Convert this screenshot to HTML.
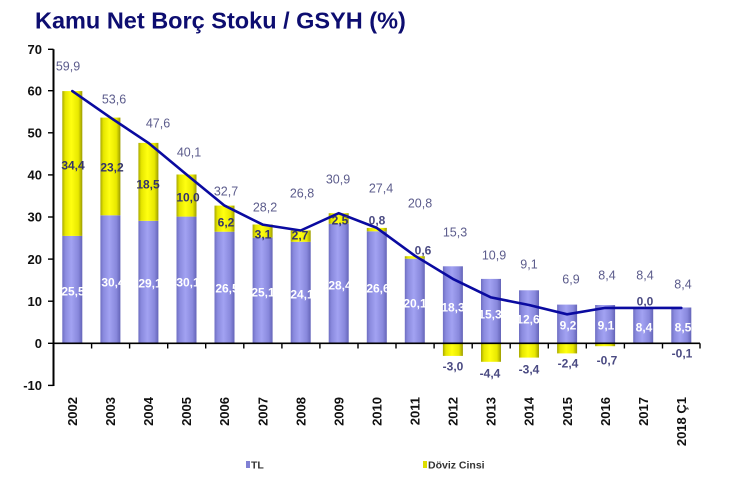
<!DOCTYPE html>
<html><head><meta charset="utf-8"><style>
html,body{margin:0;padding:0;background:#fff;}
svg{display:block;}
text{font-family:"Liberation Sans",Arial,sans-serif;}
</style></head><body>
<svg width="736" height="478" viewBox="0 0 736 478" xmlns="http://www.w3.org/2000/svg">
<defs>
<linearGradient id="gp" x1="0" x2="1" y1="0" y2="0">
<stop offset="0" stop-color="#6e6ec2"/><stop offset="0.15" stop-color="#8a8ade"/><stop offset="0.45" stop-color="#a2a2f2"/><stop offset="0.8" stop-color="#8888dc"/><stop offset="1" stop-color="#6464b8"/>
</linearGradient>
<linearGradient id="gy" x1="0" x2="1" y1="0" y2="0">
<stop offset="0" stop-color="#a8a800"/><stop offset="0.15" stop-color="#e6e600"/><stop offset="0.45" stop-color="#ffff10"/><stop offset="0.8" stop-color="#e8e800"/><stop offset="1" stop-color="#9c9c00"/>
</linearGradient>
</defs>
<rect width="736" height="478" fill="#fff"/>
<text x="35" y="28.5" font-size="23.5" font-weight="bold" fill="#0d0d70">Kamu Net Borç Stoku / GSYH (%)</text>

<!-- TL bars -->
<g fill="url(#gp)">
<rect x="62.3" y="235.9" width="20" height="107.4"/>
<rect x="100.4" y="215.3" width="20" height="128"/>
<rect x="138.4" y="220.8" width="20" height="122.5"/>
<rect x="176.5" y="216.6" width="20" height="126.7"/>
<rect x="214.5" y="231.7" width="20" height="111.6"/>
<rect x="252.6" y="237.6" width="20" height="105.7"/>
<rect x="290.7" y="241.8" width="20" height="101.5"/>
<rect x="328.7" y="223.7" width="20" height="119.6"/>
<rect x="366.8" y="231.3" width="20" height="112"/>
<rect x="404.8" y="258.7" width="20" height="84.6"/>
<rect x="442.9" y="266.3" width="20" height="77"/>
<rect x="481" y="278.9" width="20" height="64.4"/>
<rect x="519" y="290.3" width="20" height="53"/>
<rect x="557.1" y="304.6" width="20" height="38.7"/>
<rect x="595.1" y="305" width="20" height="38.3"/>
<rect x="633.2" y="307.9" width="20" height="35.4"/>
<rect x="671.3" y="307.5" width="20" height="35.8"/>
</g>
<!-- Döviz bars -->
<g fill="url(#gy)">
<rect x="62.3" y="91.1" width="20" height="144.8"/>
<rect x="100.4" y="117.6" width="20" height="97.7"/>
<rect x="138.4" y="142.9" width="20" height="77.9"/>
<rect x="176.5" y="174.5" width="20" height="42.1"/>
<rect x="214.5" y="205.6" width="20" height="26.1"/>
<rect x="252.6" y="224.5" width="20" height="13.1"/>
<rect x="290.7" y="230.4" width="20" height="11.4"/>
<rect x="328.7" y="213.2" width="20" height="10.5"/>
<rect x="366.8" y="227.9" width="20" height="3.4"/>
<rect x="404.8" y="256.2" width="20" height="2.5"/>
<rect x="442.9" y="343.3" width="20" height="12.6"/>
<rect x="481" y="343.3" width="20" height="18.5"/>
<rect x="519" y="343.3" width="20" height="14.3"/>
<rect x="557.1" y="343.3" width="20" height="10.1"/>
<rect x="595.1" y="343.3" width="20" height="2.9"/>
<rect x="671.3" y="343.3" width="20" height="0.6"/>
</g>

<!-- axes -->
<g stroke="#000" fill="none">
<line x1="53.5" y1="49.3" x2="53.5" y2="386" stroke-width="2"/>
<line x1="53" y1="343.3" x2="700" y2="343.3" stroke-width="1.6"/>
<g stroke-width="1.4">
<line x1="48" y1="49.3" x2="53.5" y2="49.3"/>
<line x1="48" y1="90.7" x2="53.5" y2="90.7"/>
<line x1="48" y1="132.8" x2="53.5" y2="132.8"/>
<line x1="48" y1="174.9" x2="53.5" y2="174.9"/>
<line x1="48" y1="217" x2="53.5" y2="217"/>
<line x1="48" y1="259.1" x2="53.5" y2="259.1"/>
<line x1="48" y1="301.2" x2="53.5" y2="301.2"/>
<line x1="48" y1="343.3" x2="53.5" y2="343.3"/>
<line x1="48" y1="385.4" x2="53.5" y2="385.4"/>
<line x1="91.6" y1="343.3" x2="91.6" y2="348.5"/>
<line x1="129.6" y1="343.3" x2="129.6" y2="348.5"/>
<line x1="167.7" y1="343.3" x2="167.7" y2="348.5"/>
<line x1="205.7" y1="343.3" x2="205.7" y2="348.5"/>
<line x1="243.8" y1="343.3" x2="243.8" y2="348.5"/>
<line x1="281.9" y1="343.3" x2="281.9" y2="348.5"/>
<line x1="319.9" y1="343.3" x2="319.9" y2="348.5"/>
<line x1="358" y1="343.3" x2="358" y2="348.5"/>
<line x1="396" y1="343.3" x2="396" y2="348.5"/>
<line x1="434.1" y1="343.3" x2="434.1" y2="348.5"/>
<line x1="472.2" y1="343.3" x2="472.2" y2="348.5"/>
<line x1="510.2" y1="343.3" x2="510.2" y2="348.5"/>
<line x1="548.3" y1="343.3" x2="548.3" y2="348.5"/>
<line x1="586.3" y1="343.3" x2="586.3" y2="348.5"/>
<line x1="624.4" y1="343.3" x2="624.4" y2="348.5"/>
<line x1="662.5" y1="343.3" x2="662.5" y2="348.5"/>
<line x1="700" y1="343.3" x2="700" y2="348.5"/>
</g>
</g>

<!-- y tick labels -->
<g font-size="13" font-weight="bold" fill="#111" text-anchor="end">
<text x="42" y="54">70</text>
<text x="42" y="95.4">60</text>
<text x="42" y="137.5">50</text>
<text x="42" y="179.6">40</text>
<text x="42" y="221.7">30</text>
<text x="42" y="263.8">20</text>
<text x="42" y="305.9">10</text>
<text x="42" y="348">0</text>
<text x="42" y="390.1">-10</text>
</g>

<!-- line -->
<polyline points="72.3,91.1 110.4,117.6 148.4,142.9 186.5,174.5 224.5,205.6 262.6,224.6 300.7,230.5 338.7,213.2 376.8,227.9 414.8,255.7 452.9,278.9 491,297.4 529,305 567.1,314.3 605.1,307.9 643.2,307.9 681.3,307.9" fill="none" stroke="#0a0aa0" stroke-width="2.6" stroke-linejoin="round" stroke-linecap="round"/>

<!-- total labels -->
<g font-size="12.5" fill="#5c5c8c" text-anchor="middle">
<text x="68" y="70.5">59,9</text>
<text x="114" y="103.5">53,6</text>
<text x="158" y="127.5">47,6</text>
<text x="189" y="156.5">40,1</text>
<text x="226" y="195.5">32,7</text>
<text x="265" y="211.5">28,2</text>
<text x="302" y="197.5">26,8</text>
<text x="338" y="183.5">30,9</text>
<text x="381" y="192.5">27,4</text>
<text x="420" y="207.5">20,8</text>
<text x="455" y="236.5">15,3</text>
<text x="494" y="259.5">10,9</text>
<text x="529" y="268.5">9,1</text>
<text x="571" y="283.5">6,9</text>
<text x="607" y="279.5">8,4</text>
<text x="645" y="279.5">8,4</text>
<text x="683" y="288.5">8,4</text>
</g>

<!-- döviz labels -->
<g font-size="12" font-weight="bold" fill="#34346a" text-anchor="middle">
<text x="73" y="169.3">34,4</text>
<text x="112" y="171.3">23,2</text>
<text x="148" y="188.3">18,5</text>
<text x="188" y="201.3">10,0</text>
<text x="226" y="226.3">6,2</text>
<text x="263" y="238.3">3,1</text>
<text x="300" y="239.3">2,7</text>
<text x="340" y="224.3">2,5</text>
</g>
<g font-size="12" font-weight="bold" fill="#4a4a82" text-anchor="middle">
<text x="377" y="224.3">0,8</text>
<text x="423" y="254.3">0,6</text>
<text x="645" y="305.3">0,0</text>
<text x="453" y="370.3">-3,0</text>
<text x="490" y="377.3">-4,4</text>
<text x="529" y="373.3">-3,4</text>
<text x="568" y="367.3">-2,4</text>
<text x="607" y="364.3">-0,7</text>
<text x="682" y="357.3">-0,1</text>
</g>

<!-- TL labels -->
<g font-size="12" font-weight="bold" fill="#fff" text-anchor="middle">
<text x="73" y="295.3">25,5</text>
<text x="113" y="286.3">30,4</text>
<text x="150" y="287.3">29,1</text>
<text x="188" y="286.3">30,1</text>
<text x="227" y="292.3">26,5</text>
<text x="263" y="296.3">25,1</text>
<text x="302" y="298.3">24,1</text>
<text x="340" y="289.3">28,4</text>
<text x="378" y="292.3">26,6</text>
<text x="415" y="307.3">20,1</text>
<text x="453" y="311.3">18,3</text>
<text x="490" y="318.3">15,3</text>
<text x="528" y="323.3">12,6</text>
<text x="568" y="329.3">9,2</text>
<text x="606" y="329.3">9,1</text>
<text x="644" y="331.3">8,4</text>
<text x="683" y="331.3">8,5</text>
</g>

<!-- year labels -->
<g font-size="13" font-weight="bold" fill="#111" text-anchor="end">
<text transform="translate(77,397) rotate(-90)">2002</text>
<text transform="translate(115.1,397) rotate(-90)">2003</text>
<text transform="translate(153.1,397) rotate(-90)">2004</text>
<text transform="translate(191.2,397) rotate(-90)">2005</text>
<text transform="translate(229.2,397) rotate(-90)">2006</text>
<text transform="translate(267.3,397) rotate(-90)">2007</text>
<text transform="translate(305.4,397) rotate(-90)">2008</text>
<text transform="translate(343.4,397) rotate(-90)">2009</text>
<text transform="translate(381.5,397) rotate(-90)">2010</text>
<text transform="translate(419.5,397) rotate(-90)">2011</text>
<text transform="translate(457.6,397) rotate(-90)">2012</text>
<text transform="translate(495.7,397) rotate(-90)">2013</text>
<text transform="translate(533.7,397) rotate(-90)">2014</text>
<text transform="translate(571.8,397) rotate(-90)">2015</text>
<text transform="translate(609.8,397) rotate(-90)">2016</text>
<text transform="translate(647.9,397) rotate(-90)">2017</text>
<text transform="translate(686,397) rotate(-90)">2018 Ç1</text>
</g>

<!-- legend -->
<rect x="246" y="461" width="4" height="7" fill="#8080d4"/>
<text x="251" y="468.5" font-size="10.5" font-weight="bold" fill="#333">TL</text>
<rect x="423" y="461" width="4" height="7" fill="#dddd00"/>
<text x="428" y="468.5" font-size="10.5" font-weight="bold" fill="#333">Döviz Cinsi</text>
</svg>
</body></html>
